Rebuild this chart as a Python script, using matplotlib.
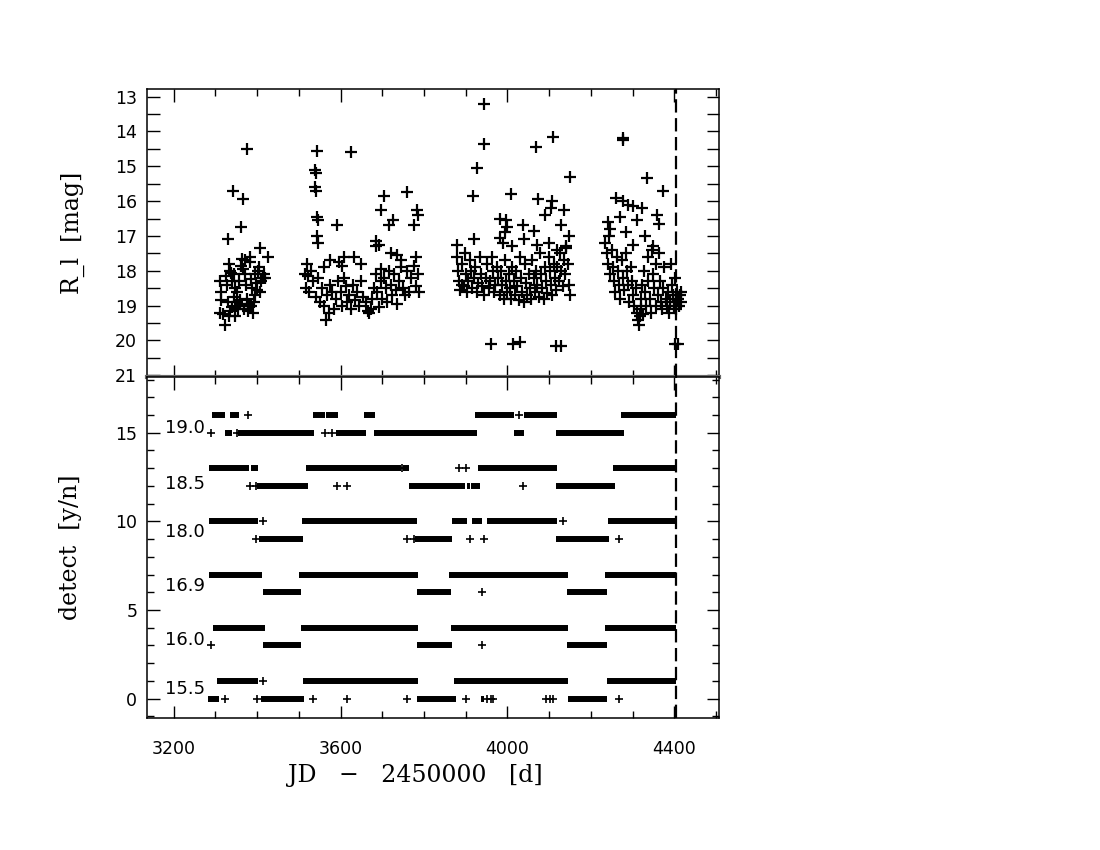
import matplotlib
matplotlib.use("Agg")
import matplotlib.pyplot as plt
from matplotlib.ticker import MultipleLocator, FixedLocator, NullFormatter

# ---------------- top panel: light curve (JD-2450000, R_l mag) ----------------
s1_jd = [3376, 3342, 3366, 3361, 3330, 3408, 3426, 3418, 3416, 3312, 3313, 3314, 3311, 3322, 3318,
         3333, 3335, 3338, 3340, 3345, 3348, 3344, 3350, 3352, 3355, 3358, 3360, 3362, 3364, 3366,
         3370, 3372, 3374, 3376, 3378, 3380, 3382, 3384, 3386, 3388, 3390, 3392, 3395, 3398, 3400,
         3402, 3404, 3406, 3410, 3328, 3330, 3332, 3326, 3336, 3341, 3346, 3353, 3356, 3368, 3379,
         3385, 3394, 3414]
s1_mag = [14.5, 15.7, 15.95, 16.75, 17.1, 17.35, 17.6, 18.2, 18.1, 18.3, 18.6, 18.85, 19.2, 19.55, 19.25,
          17.8, 18.0, 18.05, 18.3, 18.1, 18.5, 18.75, 19.0, 18.9, 19.1, 18.95, 18.85, 17.85, 17.65, 17.95,
          17.7, 18.1, 18.4, 18.8, 19.0, 18.95, 17.6, 17.75, 18.25, 18.5, 19.2, 18.9, 18.7, 18.35, 18.55,
          18.0, 17.9, 18.6, 18.3, 18.4, 18.9, 19.3, 18.15, 19.15, 19.05, 19.3, 18.6, 18.3, 19.1, 19.15,
          19.0, 18.1, 18.2]

s2_jd = [3543, 3624, 3538, 3540, 3538, 3541, 3703, 3759, 3696, 3783, 3785, 3544, 3546, 3592, 3716,
         3726, 3777, 3544, 3546, 3686, 3684, 3692, 3608, 3632, 3597, 3520, 3720, 3735, 3745, 3780,
         3515, 3522, 3530, 3518, 3524, 3535, 3540, 3545, 3550, 3555, 3560, 3565, 3568, 3572, 3575,
         3580, 3585, 3590, 3595, 3600, 3604, 3608, 3612, 3616, 3620, 3625, 3630, 3635, 3640, 3645,
         3650, 3655, 3660, 3665, 3668, 3672, 3676, 3680, 3684, 3688, 3692, 3696, 3700, 3704, 3708,
         3712, 3716, 3720, 3724, 3728, 3732, 3736, 3740, 3745, 3750, 3755, 3760, 3765, 3770, 3775,
         3780, 3785, 3788, 3560, 3575, 3603, 3650, 3698]
s2_mag = [14.55, 14.6, 15.1, 15.2, 15.6, 15.7, 15.85, 15.75, 16.25, 16.25, 16.4, 16.45, 16.55, 16.7, 16.7,
          16.55, 16.7, 17.0, 17.2, 17.15, 17.3, 17.25, 17.6, 17.6, 17.75, 17.8, 17.5, 17.55, 17.7, 17.6,
          18.1, 18.15, 18.0, 18.5, 18.6, 18.3, 18.75, 18.2, 18.9, 18.5, 19.0, 19.4, 18.7, 19.2, 18.4,
          18.6, 19.1, 18.8, 18.3, 18.6, 19.0, 18.2, 18.45, 18.9, 18.7, 19.1, 18.4, 18.85, 18.6, 19.0,
          18.3, 18.75, 18.9, 19.15, 19.2, 19.1, 18.8, 18.5, 18.1, 18.6, 19.05, 18.3, 18.8, 18.2, 18.5,
          18.9, 18.0, 18.4, 18.7, 18.1, 18.55, 18.95, 18.3, 17.9, 18.5, 18.7, 18.0, 18.6, 18.2, 17.85,
          18.45, 18.1, 18.6, 17.9, 17.7, 17.85, 17.8, 17.95]

s3_jd = [3944, 3944, 4069, 4109, 3926, 4150, 3918, 4009, 4074, 4106, 4105, 4089, 4136, 3983, 3997,
         4000, 3995, 4038, 4064, 4128, 4148, 3878, 3920, 3983, 3990, 4010, 4040, 4072, 4100, 4120,
         4140,
         3880, 3882, 3884, 3886, 3890, 3892, 3895, 3898, 3900, 3903, 3906, 3910, 3913, 3916, 3920,
         3923, 3926, 3930, 3934, 3937, 3940, 3944, 3948, 3952, 3955, 3958, 3962, 3965, 3968, 3971,
         3975, 3978, 3981, 3985, 3988, 3991, 3994, 3997, 4000, 4003, 4006, 4009, 4012, 4015, 4018,
         4021, 4024, 4027, 4030, 4033, 4036, 4039, 4042, 4045, 4048, 4051, 4054, 4057, 4060, 4063,
         4066, 4069, 4072, 4075, 4078, 4081, 4084, 4087, 4090, 4093, 4096, 4099, 4102, 4105, 4108,
         4111, 4114, 4117, 4120, 4123, 4126, 4129, 4132, 4135, 4138, 4141, 4144, 4147, 4150,
         3960, 4013, 4029, 4116, 4128]
s3_mag = [13.2, 14.35, 14.45, 14.15, 15.05, 15.3, 15.85, 15.8, 15.95, 16.0, 16.2, 16.4, 16.25, 16.5, 16.55,
          16.75, 16.9, 16.7, 16.85, 16.7, 17.0, 17.25, 17.1, 17.05, 17.2, 17.3, 17.1, 17.25, 17.2, 17.4,
          17.35,
          17.6, 18.0, 18.3, 18.55, 17.8, 18.4, 18.45, 17.5, 18.1, 18.6, 18.3, 17.7, 18.0, 18.5, 18.2,
          17.9, 18.6, 18.35, 17.6, 18.1, 18.45, 18.7, 18.2, 17.8, 18.5, 18.3, 17.6, 18.0, 18.6, 18.4,
          17.9, 18.2, 18.7, 18.0, 18.4, 18.8, 17.7, 18.3, 18.6, 18.1, 18.5, 18.8, 17.9, 18.3, 18.7,
          18.0, 18.45, 18.85, 17.6, 18.2, 18.6, 18.9, 17.8, 18.35, 18.7, 18.1, 18.5, 18.8, 17.7, 18.2,
          18.6, 18.0, 18.4, 18.75, 17.5, 18.1, 18.5, 18.8, 17.9, 18.3, 18.65, 17.6, 18.0, 18.4, 18.7,
          17.8, 18.2, 18.55, 17.9, 18.3, 17.5, 18.0, 18.45, 17.7, 18.1, 17.3, 17.8, 18.4, 18.7,
          20.1, 20.1, 20.05, 20.15, 20.15]

s4_jd = [4277, 4278, 4334, 4374, 4261, 4276, 4290, 4300, 4323, 4270, 4310, 4358, 4363, 4240, 4245,
         4243, 4284, 4300, 4330, 4350,
         4235, 4238, 4242, 4246, 4250, 4253, 4256, 4259, 4262, 4265, 4268, 4271, 4274, 4277, 4280,
         4283, 4286, 4289, 4292, 4295, 4298, 4301, 4304, 4307, 4310, 4313, 4315, 4317, 4319, 4321,
         4323, 4326, 4328, 4330, 4333, 4336, 4338, 4341, 4344, 4346, 4349, 4352, 4355, 4357, 4360,
         4363, 4365, 4368, 4371, 4373, 4376, 4379, 4382, 4385, 4388, 4390, 4393, 4395, 4397, 4399,
         4401, 4403, 4405, 4407, 4409, 4411, 4413, 4415, 4417,
         4402, 4408]
s4_mag = [14.25, 14.2, 15.35, 15.7, 15.9, 16.0, 16.1, 16.15, 16.2, 16.45, 16.55, 16.4, 16.65, 16.6, 16.8,
          17.0, 16.9, 17.25, 17.0, 17.3,
          17.2, 17.5, 17.8, 18.1, 17.4, 17.9, 18.3, 18.6, 17.6, 18.0, 18.4, 18.8, 17.7, 18.2, 18.55,
          17.5, 18.0, 18.4, 18.9, 17.9, 18.3, 18.7, 19.0, 18.5, 19.2, 19.4, 19.55, 19.3, 18.8, 19.1,
          18.4, 19.25, 18.0, 18.6, 19.0, 17.6, 18.3, 18.8, 19.2, 17.4, 18.1, 18.5, 17.8, 19.0, 18.7,
          17.5, 18.3, 18.9, 19.1, 18.5, 17.9, 18.8, 19.0, 18.6, 19.2, 18.9, 17.8, 18.4, 18.7, 19.0,
          18.2, 18.9, 19.1, 18.6, 18.8, 19.0, 18.7, 18.9, 18.6,
          20.1, 20.1]

# ---------------- bottom panel: detections per threshold ----------------
row_levels = [0, 1, 3, 4, 6, 7, 9, 10, 12, 13, 15, 16]
row_segments = {
    0: [(3283, 3308), (3410, 3513), (3784, 3876), (3936, 3945), (4144, 4239)],
    1: [(3304, 3402), (3511, 3785), (3873, 4144), (4238, 4405)],
    3: [(3415, 3506), (3783, 3868), (4142, 4239)],
    4: [(3295, 3418), (3505, 3785), (3865, 4144), (4235, 4405)],
    6: [(3415, 3505), (3783, 3865), (4142, 4239)],
    7: [(3285, 3412), (3501, 3785), (3860, 4146), (4233, 4405)],
    9: [(3404, 3509), (3779, 3868), (4116, 4243)],
    10: [(3285, 3402), (3507, 3783), (3866, 3904), (3916, 3938), (3950, 4119), (4242, 4405)],
    12: [(3400, 3521), (3763, 3899), (3903, 3910), (3913, 3934), (4116, 4258)],
    13: [(3285, 3380), (3385, 3402), (3517, 3745), (3750, 3763), (3930, 4120), (4254, 4405)],
    15: [(3323, 3339), (3354, 3537), (3589, 3660), (3680, 3926), (4015, 4039), (4116, 4279)],
    16: [(3293, 3323), (3336, 3357), (3533, 3563), (3566, 3595), (3657, 3682), (3922, 4015),
         (4039, 4120), (4273, 4405)],
}
row_points = {
    0: [3323, 3400, 3533, 3616, 3760, 3900, 3952, 3960, 3966, 4093, 4103, 4110, 4267],
    1: [3413],
    3: [3289, 3940],
    4: [],
    6: [3940],
    7: [],
    9: [3398, 3760, 3775, 3910, 3944, 4267],
    10: [3414, 4132],
    12: [3382, 3397, 3592, 3616, 4037],
    13: [3747, 3884, 3900],
    15: [3289, 3353, 3563, 3580],
    16: [3377, 4027],
}
thr_labels = ["15.5", "16.0", "16.9", "18.0", "18.5", "19.0"]
thr_label_y = [0.55, 3.3, 6.35, 9.4, 12.1, 15.25]

cut_jd = 4405

# ---------------- figure ----------------
fig = plt.figure(figsize=(11, 8.5), dpi=100)
ax1 = fig.add_axes([0.1336, 0.5565, 0.52, 0.3388])
ax2 = fig.add_axes([0.1336, 0.1553, 0.52, 0.4012])

xlim = (3136, 4507)
tick_family, tick_size = "DejaVu Sans", 12.5
labfont = dict(family="DejaVu Serif", size=17)


def style_ticklabels(ax):
    for lab in ax.get_xticklabels() + ax.get_yticklabels():
        lab.set_fontfamily(tick_family)
        lab.set_fontsize(tick_size)


for ax in (ax1, ax2):
    ax.set_xlim(*xlim)
    ax.xaxis.set_major_locator(FixedLocator([3200, 3600, 4000, 4400]))
    ax.xaxis.set_minor_locator(MultipleLocator(100))
    ax.tick_params(which="both", direction="in", top=True, right=True, width=1.0, color="black")
    ax.tick_params(which="major", length=9)
    ax.tick_params(which="minor", length=5)
    ax.tick_params(axis="x", which="major", pad=16)
    ax.tick_params(axis="y", which="major", pad=7)
    for sp in ax.spines.values():
        sp.set_linewidth(1.1)
    ax.axvline(cut_jd, color="black", lw=1.6, ls=(0, (6, 2.5)), zorder=3)

# shared boundary looks like a heavy grey double rule
ax1.spines["bottom"].set_linewidth(3.0)
ax1.spines["bottom"].set_color("0.4")

# top panel
for jd, mg in ((s1_jd, s1_mag), (s2_jd, s2_mag), (s3_jd, s3_mag), (s4_jd, s4_mag)):
    ax1.plot(jd, mg, "+", color="black", ms=9, mew=1.6, ls="none")
ax1.set_ylim(21.05, 12.78)
ax1.yaxis.set_major_locator(MultipleLocator(1))
ax1.yaxis.set_minor_locator(MultipleLocator(0.5))
ax1.tick_params(axis="y", which="minor", length=9)
ax1.xaxis.set_major_formatter(NullFormatter())
ax1.set_ylabel("R_l  [mag]", **labfont, labelpad=22)
style_ticklabels(ax1)

# bottom panel
for lvl in row_levels:
    segs = row_segments[lvl]
    ax2.hlines([lvl] * len(segs), [s[0] for s in segs], [s[1] for s in segs],
               color="black", lw=4.3, capstyle="butt")
    pts = row_points[lvl]
    if pts:
        ax2.plot(pts, [lvl] * len(pts), "+", color="black", ms=5.5, mew=1.2, ls="none")
for txt, yy in zip(thr_labels, thr_label_y):
    ax2.text(3180, yy, txt, ha="left", va="center", fontfamily="DejaVu Sans", fontsize=13)
ax2.set_ylim(-1.1, 18.15)
ax2.yaxis.set_major_locator(FixedLocator([0, 5, 10, 15]))
ax2.yaxis.set_minor_locator(MultipleLocator(1))
ax2.set_ylabel("detect  [y/n]", **labfont, labelpad=24)
ax2.set_xlabel("JD   \u2212   2450000   [d]", **labfont, labelpad=4)
ax2.xaxis.set_label_coords(0.469, -0.135)
style_ticklabels(ax2)

fig.savefig("out.png", dpi=100)
